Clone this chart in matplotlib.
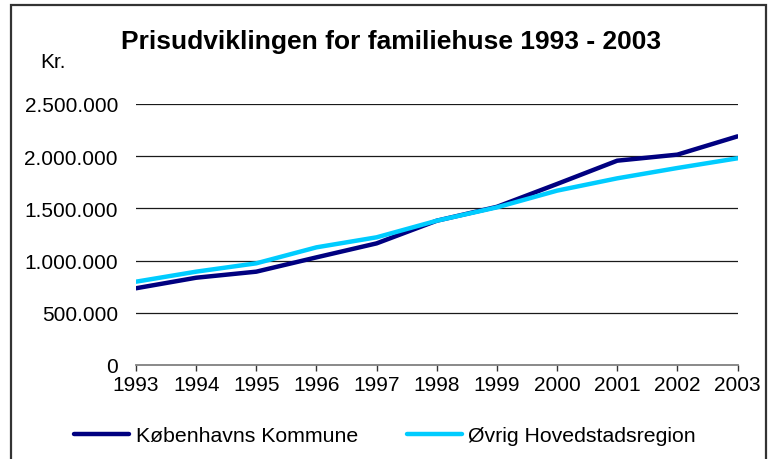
import matplotlib
matplotlib.use("Agg")
import matplotlib.pyplot as plt
from matplotlib.patches import Rectangle
from matplotlib.ticker import FuncFormatter

plt.rcParams['font.family'] = ['Liberation Sans', 'DejaVu Sans']

# Data
years = [1993, 1994, 1995, 1996, 1997, 1998, 1999, 2000, 2001, 2002, 2003]
kbh_kommune = [735000, 836000, 894000, 1031000, 1165000, 1382000,
               1515000, 1734000, 1957000, 2015000, 2190000]
oevrig_region = [798000, 894000, 974000, 1127000, 1223000, 1382000,
                 1510000, 1670000, 1788000, 1887000, 1980000]
y_ticks = [0, 500000, 1000000, 1500000, 2000000, 2500000]

fig = plt.figure(figsize=(7.76, 4.6), dpi=100)
fig.patch.set_facecolor('white')
W, H = 776, 460

# plot area in pixel coords
left, right, top, bottom = 136, 737.5, 105, 366
ax = fig.add_axes([left / W, (H - bottom) / H, (right - left) / W, (bottom - top) / H])

ax.plot(years, kbh_kommune, color='#000080', lw=3.2, solid_capstyle='round',
        label='Københavns Kommune', zorder=3)
ax.plot(years, oevrig_region, color='#00CCFF', lw=3.2, solid_capstyle='round',
        label='Øvrig Hovedstadsregion', zorder=3)

ax.set_xlim(years[0], years[-1])
ax.set_ylim(0, 2500000)
ax.set_xticks(years)
ax.set_yticks(y_ticks)
ax.yaxis.set_major_formatter(FuncFormatter(lambda v, p: f"{int(v):,}".replace(',', '.')))

for y in y_ticks[1:]:
    ax.axhline(y, color='#1a1a1a', lw=0.9, zorder=1)

for s in ['top', 'right', 'left']:
    ax.spines[s].set_visible(False)
ax.spines['bottom'].set_color('#808080')
ax.spines['bottom'].set_linewidth(1.3)

ax.tick_params(axis='y', length=0, pad=13, labelsize=15)
ax.tick_params(axis='x', direction='out', length=4.5, width=1, color='#333333',
               pad=2.5, labelsize=15)

fig.text(391 / W, 1 - 42 / H, 'Prisudviklingen for familiehuse 1993 - 2003',
         ha='center', va='center', fontsize=19, fontweight='bold')
fig.text(40 / W, 1 - 62 / H, 'Kr.', ha='left', va='center', fontsize=15)

fig.legend(loc='center', bbox_to_anchor=(385 / W, 1 - 437 / H), ncol=2,
           frameon=False, fontsize=15.3, handlelength=2.6, handletextpad=0.3,
           columnspacing=2.3, borderaxespad=0)

# chart border
fig.add_artist(Rectangle((11 / W, -0.05), (766 - 11) / W, 1.05 - 6 / H,
                         transform=fig.transFigure, fill=False,
                         edgecolor='#333333', lw=1.6))

fig.savefig('out.png', dpi=100, facecolor='white')
